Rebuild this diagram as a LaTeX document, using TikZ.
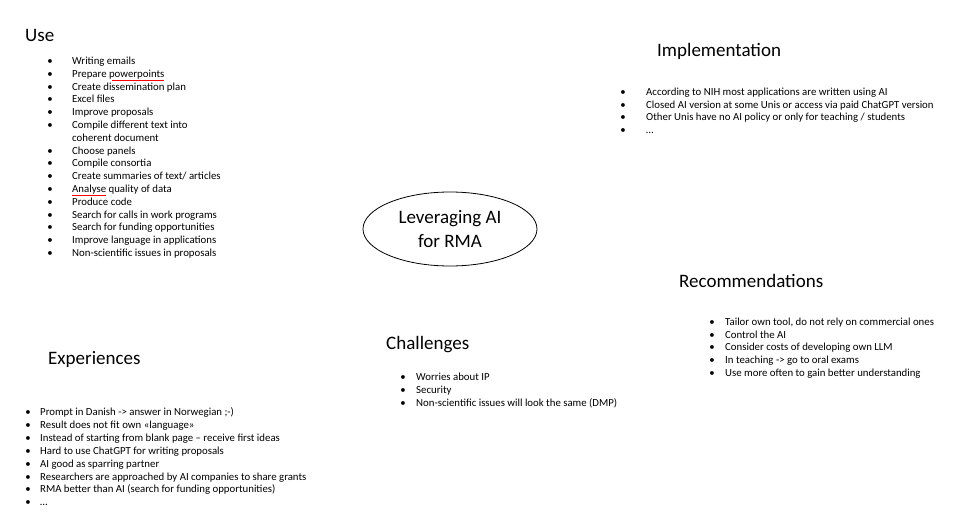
\documentclass[tikz,border=0pt]{standalone}
\usepackage{fontspec}
\setmainfont{Carlito}
\usetikzlibrary{shapes.geometric}
\begin{document}
\begin{tikzpicture}[x=1pt,y=-1pt,
  title/.style={anchor=west,inner sep=0,text height=13pt,text depth=4pt,font=\fontsize{19}{22}\selectfont},
  item/.style={anchor=west,inner sep=0,text height=7.5pt,text depth=2.5pt,font=\fontsize{10.8}{13}\selectfont},
  bul/.style={inner sep=0,text height=7.5pt,text depth=2.5pt,font=\fontsize{10.8}{13}\selectfont},
  squig/.style={red,line width=0.4pt}]
\useasboundingbox[fill=white] (0,0) rectangle (980,522);
% Use
\node[title] (use) at (25,37) {Use};
\foreach \t [count=\i] in {Writing emails,Prepare powerpoints,Create dissemination plan,Excel files,Improve proposals,Compile different text into,coherent document,Choose panels,Compile consortia,Create summaries of text/ articles,Analyse quality of data,Produce code,Search for calls in work programs,Search for funding opportunities,Improve language in applications,Non-scientific issues in proposals}{
  \node[item] (u\i) at (72,{62+12.8*(\i-1)}) {\t};
  \ifnum\i=7\else\node[bul] (ub\i) at (50,{62+12.8*(\i-1)}) {•};\fi
}
\draw[squig] (112,80.5) -- (164,80.5);
\draw[squig] (72,195.5) -- (106,195.5);
% Implementation
\node[title] (impl) at (657,52) {Implementation};
\foreach \t [count=\i] in {According to NIH most applications are written using AI,Closed AI version at some Unis or access via paid ChatGPT version,Other Unis have no AI policy or only for teaching / students,\dots}{
  \node[item] (i\i) at (646,{93+12.6*(\i-1)}) {\t};
  \node[bul] (ib\i) at (623,{93+12.6*(\i-1)}) {•};
}
% Center
\node[draw,ellipse,minimum width=174,minimum height=74,inner sep=0,line width=0.8pt,
  font=\fontsize{19}{24}\selectfont,align=center] (c) at (450,229) {Leveraging AI\\for RMA};
% Recommendations
\node[title] (rec) at (679,283) {Recommendations};
\foreach \t [count=\i] in {{Tailor own tool, do not rely on commercial ones},Control the AI,Consider costs of developing own LLM,In teaching -> go to oral exams,Use more often to gain better understanding}{
  \node[item] (r\i) at (725,{323+12.7*(\i-1)}) {\t};
  \node[bul] (rb\i) at (712,{323+12.7*(\i-1)}) {•};
}
% Challenges
\node[title] (ch) at (386,345) {Challenges};
\foreach \t [count=\i] in {Worries about IP,Security,Non-scientific issues will look the same (DMP)}{
  \node[item] (c\i) at (416,{378+12.8*(\i-1)}) {\t};
  \node[bul] (cb\i) at (403,{378+12.8*(\i-1)}) {•};
}
% Experiences
\node[title] (ex) at (48,360) {Experiences};
\foreach \t [count=\i] in {Prompt in Danish -> answer in Norwegian ;-),Result does not fit own «language»,Instead of starting from blank page – receive first ideas,Hard to use ChatGPT for writing proposals,AI good as sparring partner,Researchers are approached by AI companies to share grants,RMA better than AI (search for funding opportunities),\dots}{
  \node[item] (e\i) at (40,{413+12.9*(\i-1)}) {\t};
  \node[bul] (eb\i) at (28,{413+12.9*(\i-1)}) {•};
}
\end{tikzpicture}
\end{document}
